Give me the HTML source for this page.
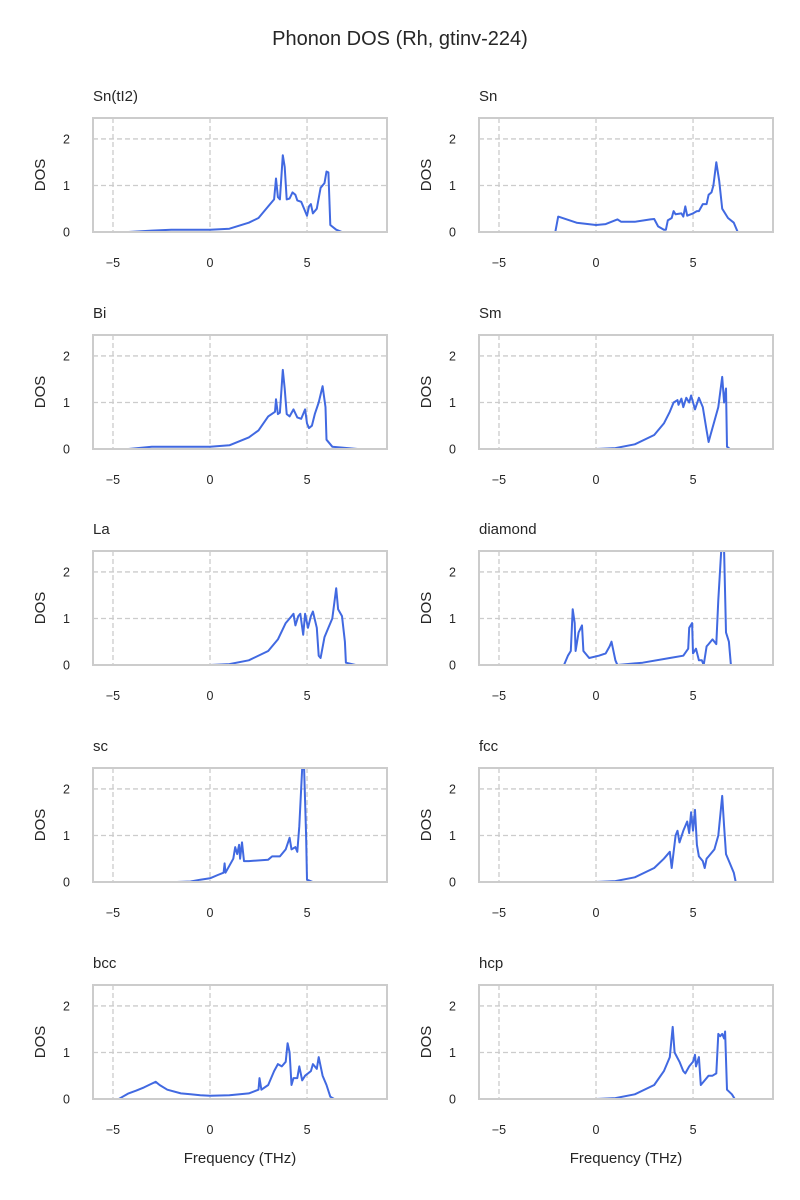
<!DOCTYPE html>
<html><head><meta charset="utf-8"><style>
html,body{margin:0;padding:0;background:#fff}
svg{display:block;font-family:"Liberation Sans","DejaVu Sans",sans-serif}
</style></head><body>
<svg id="fig" width="800" height="1200" viewBox="0 0 800 1200">
<text x="400" y="45" text-anchor="middle" font-size="20" fill="#262626">Phonon DOS (Rh, gtinv-224)</text>
</svg>
<script>
const panelTitles = ["Sn(tI2)","Sn","Bi","Sm","La","diamond","sc","fcc","bcc","hcp"];
const xTicks = [-5,0,5];
const yTicks = [0,1,2];
const freqSnTI2 = [-4.2,-3,-2,0,1,2,2.5,3,3.3,3.4,3.5,3.6,3.75,3.85,3.95,4.1,4.25,4.4,4.5,4.7,4.85,5.0,5.1,5.2,5.3,5.5,5.7,5.9,6.0,6.1,6.2,6.5,6.8,7.6];
const dosSnTI2  = [0,0.03,0.05,0.05,0.07,0.2,0.3,0.55,0.7,1.15,0.75,0.7,1.65,1.4,0.7,0.72,0.85,0.8,0.68,0.65,0.5,0.35,0.55,0.6,0.4,0.5,0.95,1.05,1.3,1.28,0.15,0.05,0,0];
const freqSn = [-3,-2.1,-1.95,-1,0,0.5,1.1,1.3,2,2.8,3,3.2,3.5,3.6,3.7,3.9,4.0,4.1,4.4,4.5,4.6,4.7,5.0,5.2,5.3,5.5,5.7,5.8,5.95,6.05,6.2,6.35,6.5,6.8,7.1,7.3,8.2];
const dosSn  = [0,0,0.33,0.2,0.15,0.17,0.27,0.22,0.22,0.27,0.28,0.12,0.05,0.05,0.25,0.3,0.45,0.38,0.4,0.33,0.55,0.35,0.4,0.45,0.45,0.6,0.6,0.8,0.85,1.0,1.5,1.1,0.5,0.3,0.2,0,0];
const freqBi = [-4.2,-3,0,1,2,2.5,3,3.35,3.4,3.5,3.6,3.75,3.85,3.95,4.1,4.3,4.5,4.7,4.9,5.0,5.1,5.25,5.4,5.6,5.8,5.95,6.0,6.3,7.6];
const dosBi  = [0,0.05,0.05,0.08,0.25,0.4,0.7,0.8,1.07,0.75,0.78,1.7,1.3,0.75,0.7,0.85,0.68,0.65,0.85,0.55,0.45,0.5,0.75,1.0,1.35,0.9,0.2,0.05,0];
const freqSm = [0,1,2,3,3.5,3.8,4.0,4.2,4.25,4.4,4.5,4.65,4.8,4.9,5.1,5.3,5.5,5.7,5.8,5.9,6.1,6.3,6.5,6.6,6.7,6.75,6.9,7.4];
const dosSm  = [0,0.02,0.1,0.3,0.55,0.8,1.0,1.05,0.95,1.08,0.9,1.1,1.0,1.15,0.85,1.1,0.9,0.4,0.15,0.3,0.6,0.9,1.55,1.0,1.3,0.05,0,0];
const freqLa = [0,1,2,3,3.5,3.9,4.1,4.3,4.4,4.55,4.65,4.8,4.9,5.05,5.2,5.3,5.5,5.6,5.7,5.9,6.1,6.3,6.5,6.6,6.8,6.95,7.0,7.5];
const dosLa  = [0,0.02,0.1,0.3,0.55,0.9,1.0,1.1,0.85,1.05,1.1,0.65,1.1,0.8,1.05,1.15,0.8,0.2,0.15,0.6,0.8,1.0,1.65,1.2,1.05,0.5,0.05,0];
const freqDiamond = [-2.42,-1.65,-1.45,-1.3,-1.2,-1.1,-1.05,-0.9,-0.72,-0.65,-0.35,0.15,0.5,0.7,0.8,1.0,1.1,2.4,3.8,4.5,4.75,4.8,4.95,5.0,5.15,5.3,5.45,5.55,5.7,5.8,6.0,6.2,6.3,6.45,6.6,6.7,6.85,6.95,7.85];
const dosDiamond  = [0,0,0.2,0.3,1.2,0.9,0.3,0.7,0.85,0.3,0.15,0.2,0.25,0.4,0.5,0.1,0,0.05,0.15,0.2,0.35,0.8,0.9,0.25,0.35,0.1,0.1,0,0.4,0.45,0.55,0.45,1.4,2.45,2.45,0.7,0.5,0,0];
const freqSc = [-1.7,-1,-0.5,0,0.4,0.7,0.75,0.8,1,1.2,1.3,1.4,1.5,1.55,1.65,1.75,2,3,3.2,3.6,3.9,4.1,4.2,4.4,4.5,4.6,4.75,4.85,4.95,5.0,5.3];
const dosSc  = [0,0.01,0.05,0.08,0.15,0.2,0.4,0.2,0.35,0.5,0.75,0.6,0.8,0.5,0.85,0.45,0.45,0.48,0.55,0.55,0.7,0.95,0.7,0.75,0.65,1.2,2.45,2.45,1.0,0.05,0];
const freqFcc = [0,1,2,3,3.5,3.8,3.9,4.1,4.2,4.3,4.5,4.7,4.8,4.9,5.0,5.1,5.2,5.3,5.5,5.6,5.7,5.8,6.1,6.3,6.5,6.6,6.7,6.9,7.1,7.2,7.7];
const dosFcc  = [0,0.02,0.1,0.3,0.5,0.65,0.3,1.0,1.1,0.85,1.1,1.3,1.05,1.5,1.1,1.55,0.8,0.55,0.45,0.3,0.5,0.55,0.7,1.0,1.85,1.2,0.6,0.4,0.2,0,0];
const freqBcc = [-5.5,-4.7,-4.5,-4.2,-3.8,-3.4,-3.0,-2.8,-2.6,-2.2,-1.5,-1,-0.5,0,1,2,2.5,2.55,2.65,3,3.3,3.5,3.7,3.9,4.0,4.1,4.2,4.3,4.5,4.6,4.75,4.9,5.2,5.3,5.5,5.6,5.8,6.0,6.2,6.4,7.1];
const dosBcc  = [0,0,0.05,0.12,0.18,0.25,0.33,0.37,0.3,0.2,0.12,0.1,0.08,0.07,0.08,0.12,0.2,0.45,0.2,0.3,0.6,0.75,0.7,0.8,1.2,1.0,0.3,0.45,0.45,0.7,0.4,0.5,0.6,0.75,0.65,0.9,0.5,0.3,0.05,0,0];
const freqHcp = [0,1,2,3,3.5,3.8,3.95,4.05,4.3,4.5,4.6,4.8,5.0,5.1,5.15,5.3,5.4,5.6,5.8,6.0,6.2,6.3,6.4,6.5,6.6,6.65,6.75,7.0,7.15,7.5];
const dosHcp  = [0,0.02,0.1,0.3,0.6,0.9,1.55,1.0,0.8,0.6,0.55,0.7,0.8,0.95,0.7,0.9,0.3,0.4,0.5,0.5,0.55,1.4,1.35,1.4,1.3,1.45,0.2,0.1,0,0];
const seriesFreq = [freqSnTI2,freqSn,freqBi,freqSm,freqLa,freqDiamond,freqSc,freqFcc,freqBcc,freqHcp];
const seriesDos  = [dosSnTI2,dosSn,dosBi,dosSm,dosLa,dosDiamond,dosSc,dosFcc,dosBcc,dosHcp];

const NS = "http://www.w3.org/2000/svg";
const svg = document.getElementById('fig');
const X0 = -6.03, X1 = 9.12, Y0 = 0, Y1 = 2.45;
const W = 294, H = 114;
const colLeft = [93, 479];
const rowTop = [118, 335, 551, 768, 985];
function mk(tag, attrs, parent){
  const e = document.createElementNS(NS, tag);
  for (const k in attrs) e.setAttribute(k, attrs[k]);
  parent.appendChild(e);
  return e;
}
for (let i = 0; i < 10; i++) {
  const left = colLeft[i % 2], top = rowTop[Math.floor(i / 2)];
  const sx = v => left + (v - X0) / (X1 - X0) * W;
  const sy = v => top + H - (v - Y0) / (Y1 - Y0) * H;
  const g = mk('g', {}, svg);
  
  
  const t = mk('text', {x: left, y: top - 17, 'font-size': 15, fill: '#262626'}, g);
  t.textContent = panelTitles[i];
  
  
  for (const xv of xTicks) {
    const gl = mk('line', {x1: sx(xv), x2: sx(xv), y1: top, y2: top + H, stroke: '#cccccc', 'stroke-width': 1.3, 'stroke-dasharray': '5,3'}, g);
    
    
    const tl = mk('text', {x: sx(xv), y: top + H + 35, 'font-size': 12.5, fill: '#262626', 'text-anchor': 'middle'}, g);
    tl.textContent = xv < 0 ? '\u2212' + Math.abs(xv) : String(xv);
    
    
  }
  for (const yv of yTicks) {
    if (yv > 0) {
      const gl = mk('line', {x1: left, x2: left + W, y1: sy(yv), y2: sy(yv), stroke: '#cccccc', 'stroke-width': 1.3, 'stroke-dasharray': '5,3'}, g);
      
      
    }
    const tl = mk('text', {x: left - 23, y: sy(yv) + 4.5, 'font-size': 12.5, fill: '#262626', 'text-anchor': 'end'}, g);
    tl.textContent = String(yv);
    
    
  }
  const yl = mk('text', {x: 0, y: 0, 'font-size': 15, fill: '#262626', 'text-anchor': 'middle', transform: `translate(${left - 48},${top + H / 2}) rotate(-90)`}, g);
  yl.textContent = 'DOS';
  
  
  const fr = seriesFreq[i], ds = seriesDos[i];
  let d = '';
  for (let k = 0; k < fr.length; k++) d += (k ? 'L' : 'M') + sx(fr[k]).toFixed(1) + ',' + sy(Math.min(ds[k], Y1 + 0.05)).toFixed(1);
  const cp = mk('clipPath', {id: 'clip' + i}, g);
  mk('rect', {x: left, y: top, width: W, height: H}, cp);
  const p = mk('path', {d: d, fill: 'none', stroke: '#4169e1', 'stroke-width': 2, 'stroke-linejoin': 'round', 'clip-path': `url(#clip${i})`}, g);
  
  
  const fr2 = mk('rect', {x: left, y: top, width: W, height: H, fill: 'none', stroke: '#cccccc', 'stroke-width': 2}, g);
  
  
  if (i >= 8) {
    const xl = mk('text', {x: left + W / 2, y: top + H + 64, 'font-size': 15, fill: '#262626', 'text-anchor': 'middle'}, g);
    xl.textContent = 'Frequency (THz)';
    
    
  }
}
</script>
</body></html>
